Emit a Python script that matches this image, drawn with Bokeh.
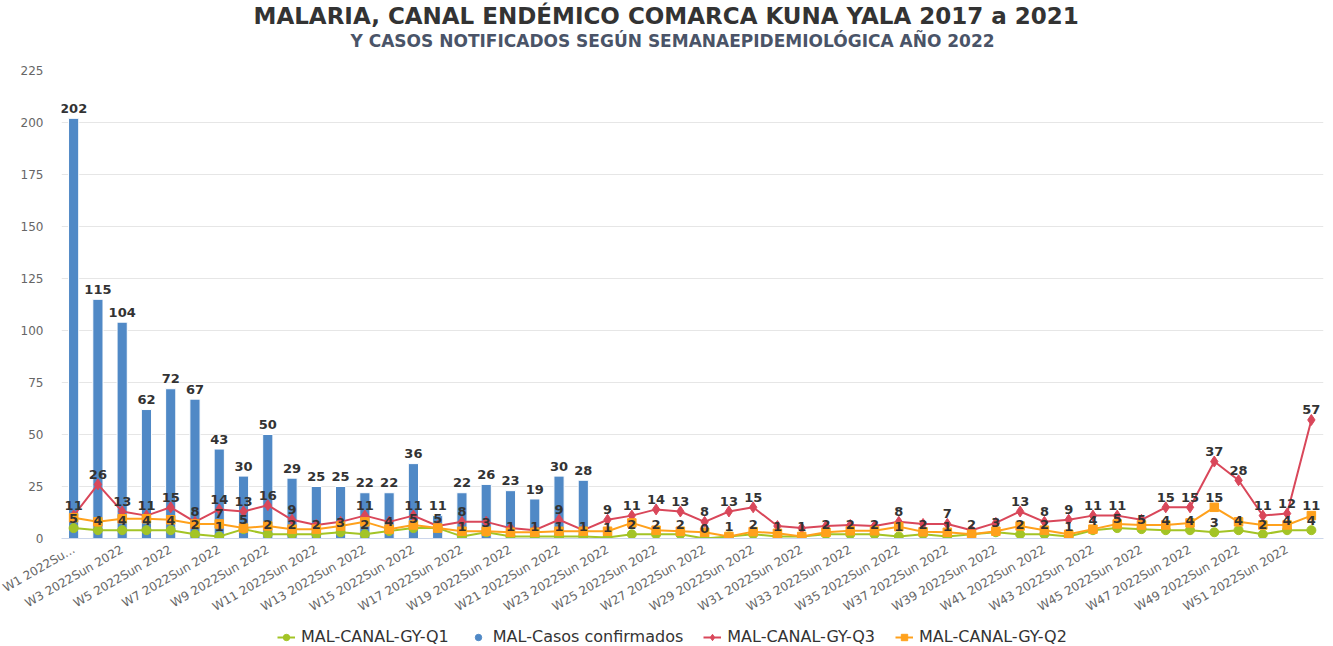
import math
from bokeh.plotting import figure
from bokeh.layouts import column
from bokeh.models import (ColumnDataSource, FixedTicker, Legend, LegendItem,
                          Title, Range1d)
from bokeh.core.properties import value
from bokeh.embed import file_html
from bokeh.resources import INLINE

# ---------------- data ----------------
weeks = list(range(1, 53))
week_labels = ["W%d 2022Sun 2022" % w for w in weeks]
week_labels[0] = "W1 2022Su..."

casos = [202, 115, 104, 62, 72, 67, 43, 30, 50, 29, 25, 25, 22, 22, 36, 11,
         22, 26, 23, 19, 30, 28]

q1 = [5, 4, 4, 4, 4, 2, 1, 4.5, 2, 2, 2, 3, 2, 3.6, 5, 5, 1, 3, 1, 1, 1, 1,
      0.5, 2, 2, 2, 0, 1, 2, 1, 1, 2, 2, 2, 1, 2, 1, 2, 3, 2, 2, 1, 4, 5, 4.5,
      4, 4, 3, 4, 2, 4, 4]

q2 = [10, 8, 9.5, 9.5, 9, 7, 7, 5, 6, 4.5, 4.5, 6, 8, 4.5, 6.5, 5, 3.5, 3.5,
      3, 3, 3.5, 3.5, 3.5, 7.5, 4, 3.5, 3, 1, 3.3, 2.5, 1, 3, 3.7, 3.7, 5.7,
      3.2, 3, 2, 3.5, 6, 4, 2, 4.5, 7, 6.5, 6.5, 7.5, 15, 8, 6.5, 6.5, 11]

q3 = [11, 26, 13, 11, 15, 8, 14, 13, 16, 9, 6.5, 8, 11, 8, 11, 6, 8, 8, 5, 4,
      9, 4, 9, 11, 14, 13, 8, 13, 15, 6, 5, 6, 6.5, 6, 8, 7, 7, 4, 7.5, 13, 8,
      9, 11, 11, 9, 15, 15, 37, 28, 11, 12, 57]

series_names = ["MAL-CANAL-GY-Q1", "MAL-Casos confirmados",
                "MAL-CANAL-GY-Q3", "MAL-CANAL-GY-Q2"]

# ---------------- styles ----------------
BLUE = "#5089c6"
RED = "#d9475a"
ORANGE = "#ffa11c"
GREEN = "#a3c426"
FONT = "DejaVu Sans"

W, H = 1328, 622
BL, BR, BT, BB = 61, 5, 68, 84
FW = W - BL - BR
FH = H - BT - BB
YMAX = 225
px_per_unit = FH / YMAX
x0, x1 = 0.5, 52.5
px_per_week = FW / (x1 - x0)

p = figure(width=W, height=H, output_backend="svg", toolbar_location=None,
           x_range=Range1d(x0, x1), y_range=Range1d(0, YMAX),
           min_border_left=BL, min_border_right=BR, min_border_top=BT,
           min_border_bottom=BB, outline_line_color=None)
p.background_fill_color = "white"
p.border_fill_color = "white"

# titles: spacer (closest to frame), subtitle, main title
p.add_layout(Title(text=" ", text_font_size="1px", standoff=17), "above")
p.add_layout(Title(text="Y CASOS NOTIFICADOS SEGÚN SEMANAEPIDEMIOLÓGICA AÑO 2022",
                   align="left", offset=289, text_font=FONT,
                   text_font_size="17px", text_font_style="bold",
                   text_color="#4a5468", standoff=0), "above")
p.add_layout(Title(text="MALARIA, CANAL ENDÉMICO COMARCA KUNA YALA 2017 a 2021",
                   align="left", offset=192, text_font=FONT,
                   text_font_size="23px", text_font_style="bold",
                   text_color="#333333", standoff=0), "above")

# axes
p.xgrid.grid_line_color = None
p.ygrid.grid_line_color = "#e6e6e6"
p.yaxis.ticker = FixedTicker(ticks=list(range(0, YMAX + 1, 25)))
p.yaxis.axis_line_color = None
p.yaxis.major_tick_line_color = None
p.yaxis.minor_tick_line_color = None
p.yaxis.major_label_standoff = 12
p.yaxis.major_label_text_font = FONT
p.yaxis.major_label_text_font_size = "12px"
p.yaxis.major_label_text_color = "#666666"

odd = [w for w in weeks if w % 2 == 1]
p.xaxis.ticker = FixedTicker(ticks=odd)
p.xaxis.major_label_overrides = {w: week_labels[w - 1] for w in odd}
p.xaxis.major_label_orientation = math.pi / 6
p.xaxis.axis_line_color = "#ccd6eb"
p.xaxis.major_tick_line_color = None
p.xaxis.minor_tick_line_color = None
p.xaxis.major_label_standoff = 4
p.xaxis.major_label_text_font = FONT
p.xaxis.major_label_text_font_size = "12px"
p.xaxis.major_label_text_color = "#666666"

# bars
bar_src = ColumnDataSource(dict(x=weeks[:len(casos)], top=casos))
p.vbar(x="x", top="top", width=0.42, bottom=0, source=bar_src,
       fill_color=BLUE, line_color="white", line_width=1)

# lines
def line_series(fig, xs, vals, color, marker, size):
    src = ColumnDataSource(dict(x=xs, y=vals))
    l = fig.line("x", "y", source=src, line_color=color, line_width=2)
    s = fig.scatter("x", "y", source=src, marker=marker, size=size,
                    fill_color=color, line_color=color)
    return l, s

line_series(p, weeks, q1, GREEN, "circle", 9)
line_series(p, weeks, q3, RED, "diamond", 11)
line_series(p, weeks, q2, ORANGE, "square", 8.5)

# ---------------- data labels with overlap hiding ----------------
LABEL_OFF_PX = 10
cands = []
order = 0
def add_labels(xs, vals, rank_fn):
    global order
    for x, v in zip(xs, vals):
        txt = str(int(v + 0.5))
        xpx = (x - x0) * px_per_week
        ypx = v * px_per_unit + LABEL_OFF_PX
        cands.append((rank_fn(v), order, xpx, ypx, txt, x, v))
        order += 1

add_labels(weeks, q1, lambda v: 0)
add_labels(weeks[:len(casos)], casos, lambda v: v * px_per_unit)
add_labels(weeks, q3, lambda v: 0)
add_labels(weeks, q2, lambda v: 0)
cands.sort(key=lambda c: (-c[0], c[1]))

kept = []
for c in cands:
    w = len(c[4]) * 8.3 + 2
    ok = True
    for k in kept:
        wk = len(k[4]) * 8.3 + 2
        if abs(c[2] - k[2]) < (w + wk) / 2 and abs(c[3] - k[3]) < 12:
            ok = False
            break
    if ok:
        kept.append(c)

lab_src = ColumnDataSource(dict(
    x=[k[5] for k in kept],
    y=[k[6] + LABEL_OFF_PX / px_per_unit for k in kept],
    t=[k[4] for k in kept]))
p.text("x", "y", text="t", source=lab_src, text_font=value(FONT),
       text_font_size="13px", text_font_style="bold", text_color="#333333",
       text_align="center", text_baseline="middle")

# ---------------- legend (separate strip below the chart) ----------------
lg = figure(width=W, height=24, output_backend="svg", toolbar_location=None,
            x_range=Range1d(0, 1), y_range=Range1d(0, 1),
            min_border_left=0, min_border_right=0, min_border_top=0,
            min_border_bottom=0, outline_line_color=None)
lg.axis.visible = False
lg.grid.visible = False
nan = [float("nan")]
pg = line_series(lg, nan, nan, GREEN, "circle", 9)
pb = lg.scatter(x=nan, y=nan, marker="circle", size=11,
                fill_color=BLUE, line_color=BLUE)
pr = line_series(lg, nan, nan, RED, "diamond", 11)
po = line_series(lg, nan, nan, ORANGE, "square", 8.5)

legend = Legend(items=[
    LegendItem(label=series_names[0], renderers=list(pg)),
    LegendItem(label=series_names[1], renderers=[pb]),
    LegendItem(label=series_names[2], renderers=list(pr)),
    LegendItem(label=series_names[3], renderers=list(po)),
], orientation="horizontal", location=(216, 0))
legend.label_text_font = FONT
legend.label_text_font_size = "16px"
legend.label_text_color = "#333333"
legend.border_line_color = None
legend.background_fill_alpha = 0
legend.glyph_width = 18
legend.glyph_height = 16
legend.label_height = 16
legend.label_standoff = 6
legend.spacing = 20
legend.padding = 4
legend.margin = 0
lg.add_layout(legend, "center")

page = column(p, lg, spacing=0)
open("out.html", "w").write(file_html(page, INLINE))
